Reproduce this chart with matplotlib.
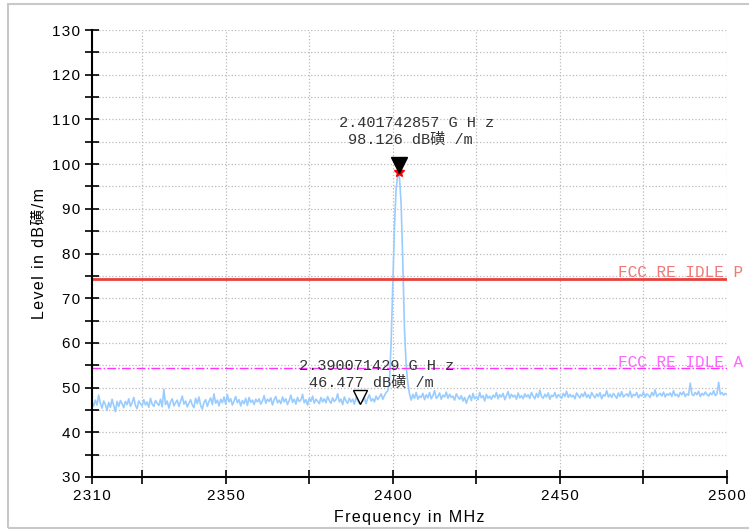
import numpy as np
import matplotlib
matplotlib.use("Agg")
from matplotlib import pyplot as plt
from matplotlib.patches import Rectangle

# sweep below the carrier, 2310.0 .. 2398.5 MHz in 0.5 MHz steps
noise_left = [
    46.8, 45.9, 47.2, 46.1, 48.3, 46.5, 45.4, 47.0, 46.2, 44.9, 46.7, 45.6, 47.4, 46.0, 44.6, 46.9, 45.8, 47.1, 46.4, 45.5,
    46.9, 46.2, 47.5, 45.8, 46.6, 47.8, 46.0, 45.3, 47.0, 46.4, 45.9, 47.3, 46.1, 46.8, 45.6, 47.6, 46.3, 45.8, 47.1, 46.5,
    46.0, 47.4, 45.7, 49.6, 46.2, 47.0, 45.4, 46.8, 47.5, 45.9, 46.6, 47.2, 45.8, 46.9, 48.1, 46.3, 47.0, 45.7, 46.5, 47.3,
    46.1, 45.5, 47.6, 46.4, 47.9, 46.0, 45.2, 46.7, 47.3, 45.8, 46.9, 47.7, 46.2, 48.6, 46.5, 47.2, 45.9, 47.4, 46.6, 47.9,
    46.3, 48.4, 46.8, 47.5, 46.1, 47.0, 48.0, 46.6, 47.3, 45.9, 47.1, 46.4, 47.6, 46.0, 47.8, 46.7, 47.2, 46.2, 47.4, 46.8,
    47.5, 46.3, 47.0, 48.2, 46.5, 47.4, 46.9, 47.7, 46.1, 47.3, 48.0, 46.6, 47.2, 46.4, 47.9, 46.8, 47.5, 46.2, 47.1, 48.3,
    46.7, 47.4, 46.3, 47.8, 46.9, 47.2, 48.5, 46.6, 47.3, 46.1, 47.6, 46.9, 48.1, 46.5, 47.4, 47.0, 46.4, 47.8, 46.8, 47.5,
    46.6, 48.0, 47.1, 46.5, 47.7, 46.9, 47.3, 48.6, 46.8, 47.4, 46.2, 47.9, 47.0, 46.5, 47.6, 46.8, 47.4, 46.3, 47.8, 47.1,
    46.5, 47.3, 46.9, 47.8, 46.4, 47.6, 48.4, 47.0, 47.5, 46.8, 48.1, 47.3, 47.9, 48.6, 47.4, 48.2, 48.9, 49.3,
]

# carrier
peak_freq = [2399.0, 2399.5, 2400.0, 2400.5, 2401.0, 2401.5, 2401.742857, 2402.0,
             2402.5, 2403.0, 2403.5, 2404.0, 2404.5, 2405.0]
peak_level = [51.5, 60.0, 73.0, 86.0, 94.5, 97.6, 98.126, 97.0,
              91.0, 78.0, 63.0, 55.0, 51.0, 48.6]

# sweep above the carrier, 2405.5 .. 2500.0 MHz in 0.5 MHz steps
noise_right = [
    47.2, 48.5, 47.6, 48.9, 47.4, 48.1, 47.8, 48.7, 47.3,
    48.4, 47.7, 48.9, 47.5, 48.2, 49.3, 47.6, 48.0, 48.8, 47.4, 48.3, 47.9, 49.0, 47.6, 48.5, 47.8, 48.1, 47.2, 48.6, 47.9,
    47.4, 48.2, 47.0, 47.8, 46.5, 47.6, 48.3, 47.1, 48.7, 47.5, 48.0, 47.3, 48.9, 47.7, 48.2, 47.0, 48.5, 47.6, 48.1, 47.4,
    48.3, 47.8, 48.9, 47.5, 48.4, 47.9, 48.7, 47.3, 48.2, 49.1, 47.6, 48.5, 47.9, 48.3, 47.4, 48.8, 47.7, 48.2, 47.5, 48.6,
    47.9, 48.4, 47.6, 48.9, 48.1, 47.5, 48.7, 47.8, 49.4, 48.0, 47.6, 48.5, 47.9, 48.8, 47.4, 48.3, 48.0, 48.9, 47.7, 48.4,
    48.1, 47.6, 48.7, 48.0, 49.2, 47.8, 48.5, 47.9, 48.3, 47.5, 48.8, 48.2, 47.7, 48.6, 48.0, 49.0, 47.8, 48.4, 47.6, 48.9,
    48.2, 47.7, 48.6, 48.0, 48.9, 47.5, 48.4, 48.1, 49.3, 47.9, 48.5, 47.8, 48.7, 48.2, 47.6, 48.8, 48.0, 49.1, 47.9, 48.3,
    48.6, 48.0, 49.2, 47.8, 48.5, 48.2, 48.9, 47.7, 48.4, 48.1, 49.0, 47.9, 48.6, 48.3, 47.8, 48.9, 48.2, 49.5, 48.0, 48.4,
    48.7, 48.1, 49.0, 47.9, 48.6, 48.3, 48.8, 48.0, 49.3, 48.2, 48.5, 47.9, 48.9, 48.4, 49.1, 48.0, 48.6, 48.3, 51.0, 48.5,
    48.2, 48.9, 48.4, 49.2, 48.0, 48.7, 48.3, 49.0, 48.5, 48.1, 48.8, 48.4, 49.3, 48.2, 48.6, 51.2, 48.5, 48.9, 48.3, 48.7, 48.4,
]

limit_peak = 74.3
limit_avg = 54.3
limit_text = ["FCC RE IDLE P", "FCC RE IDLE A"]
markers_f = [2401.742857, 2390.071429]
markers_l = [98.126, 46.477]
marker_text = [["2.401742857 G H z", "98.126 dB磺 /m"],
               ["2.390071429 G H z", "46.477 dB磺 /m"]]

xticks = [2310, 2325, 2350, 2375, 2400, 2425, 2450, 2475, 2500]
xtick_labels = ["2310", "", "2350", "", "2400", "", "2450", "", "2500"]
yticks = [30, 40, 50, 60, 70, 80, 90, 100, 110, 120, 130]


def spaced(s):
    # the analyser software draws its labels with wide letter spacing
    return "\u200a".join(s)


f_left = np.linspace(2310.0, 2398.5, len(noise_left))
f_right = np.linspace(2405.5, 2500.0, len(noise_right))
freq = np.concatenate([f_left, peak_freq, f_right])
level = np.concatenate([noise_left, peak_level, noise_right])

mono = ["Liberation Mono", "Noto Sans CJK SC"]
sans = ["Liberation Sans", "DejaVu Sans", "Noto Sans CJK SC"]

fig = plt.figure(figsize=(7.49, 5.31), dpi=100)
fig.patches.append(Rectangle((8 / 749, 3 / 531), 1.0, 524 / 531, transform=fig.transFigure,
                             fill=False, edgecolor="#c8c8c8", linewidth=1.5))
ax = fig.add_axes([92 / 749, 1 - 477 / 531, 635 / 749, 447 / 531])

ax.plot(freq, level, color="#99ccff", linewidth=1.2)
ax.axhline(limit_peak, color="#e8403c", linewidth=2)
ax.axhline(limit_avg, color="#ff33ff", linewidth=1, linestyle="-.")

ax.text(2467.5, limit_peak + 0.4, limit_text[0], color="#f07878", fontsize=11.5,
        family=mono, clip_on=False)
ax.text(2467.5, limit_avg + 0.4, limit_text[1], color="#ff66ff", fontsize=11.5,
        family=mono, clip_on=False)

# marker 1: peak
ax.plot(markers_f[0], markers_l[0], marker="*", color="red", markersize=7)
ax.plot(markers_f[0], markers_l[0] + 1.7, marker="v", color="black", markersize=11)
# marker 2: band edge
ax.plot(markers_f[1], markers_l[1] + 1.5, marker="v", markerfacecolor="white",
        markeredgecolor="black", markersize=10)

tcol = "#333333"
ax.text(2407.0, 109.2, marker_text[0][0], fontsize=11, family=mono, ha="center", va="center", color=tcol)
ax.text(2405.2, 105.4, marker_text[0][1], fontsize=11, family=mono, ha="center", va="center", color=tcol)
ax.text(2395.0, 54.8, marker_text[1][0], fontsize=11, family=mono, ha="center", va="center", color=tcol)
ax.text(2393.6, 51.0, marker_text[1][1], fontsize=11, family=mono, ha="center", va="center", color=tcol)

ax.set_xlim(2310, 2500)
ax.set_ylim(30, 130)
ax.set_xticks(xticks)
ax.set_xticklabels([spaced(t) for t in xtick_labels], family=sans)
ax.set_yticks(yticks)
ax.set_yticklabels([spaced(str(t)) for t in yticks], family=sans)
ax.set_yticks(np.arange(35, 130, 10), minor=True)
ax.tick_params(axis="both", which="both", direction="inout", length=10, width=1.2,
               labelsize=11)
ax.tick_params(axis="x", pad=4)
ax.grid(True, which="both", linestyle=":", color="#bbbbbb", linewidth=0.9)
ax.spines["top"].set_visible(False)
ax.spines["right"].set_visible(False)
ax.spines["left"].set_linewidth(1.5)
ax.spines["bottom"].set_linewidth(1.5)

ax.set_xlabel(spaced("Frequency in MHz"), fontsize=11.5, family=sans, labelpad=5)
ax.set_ylabel(spaced("Level in dB磺/m"), fontsize=11.5, family=sans, labelpad=4)

fig.savefig("out.png", dpi=100)
